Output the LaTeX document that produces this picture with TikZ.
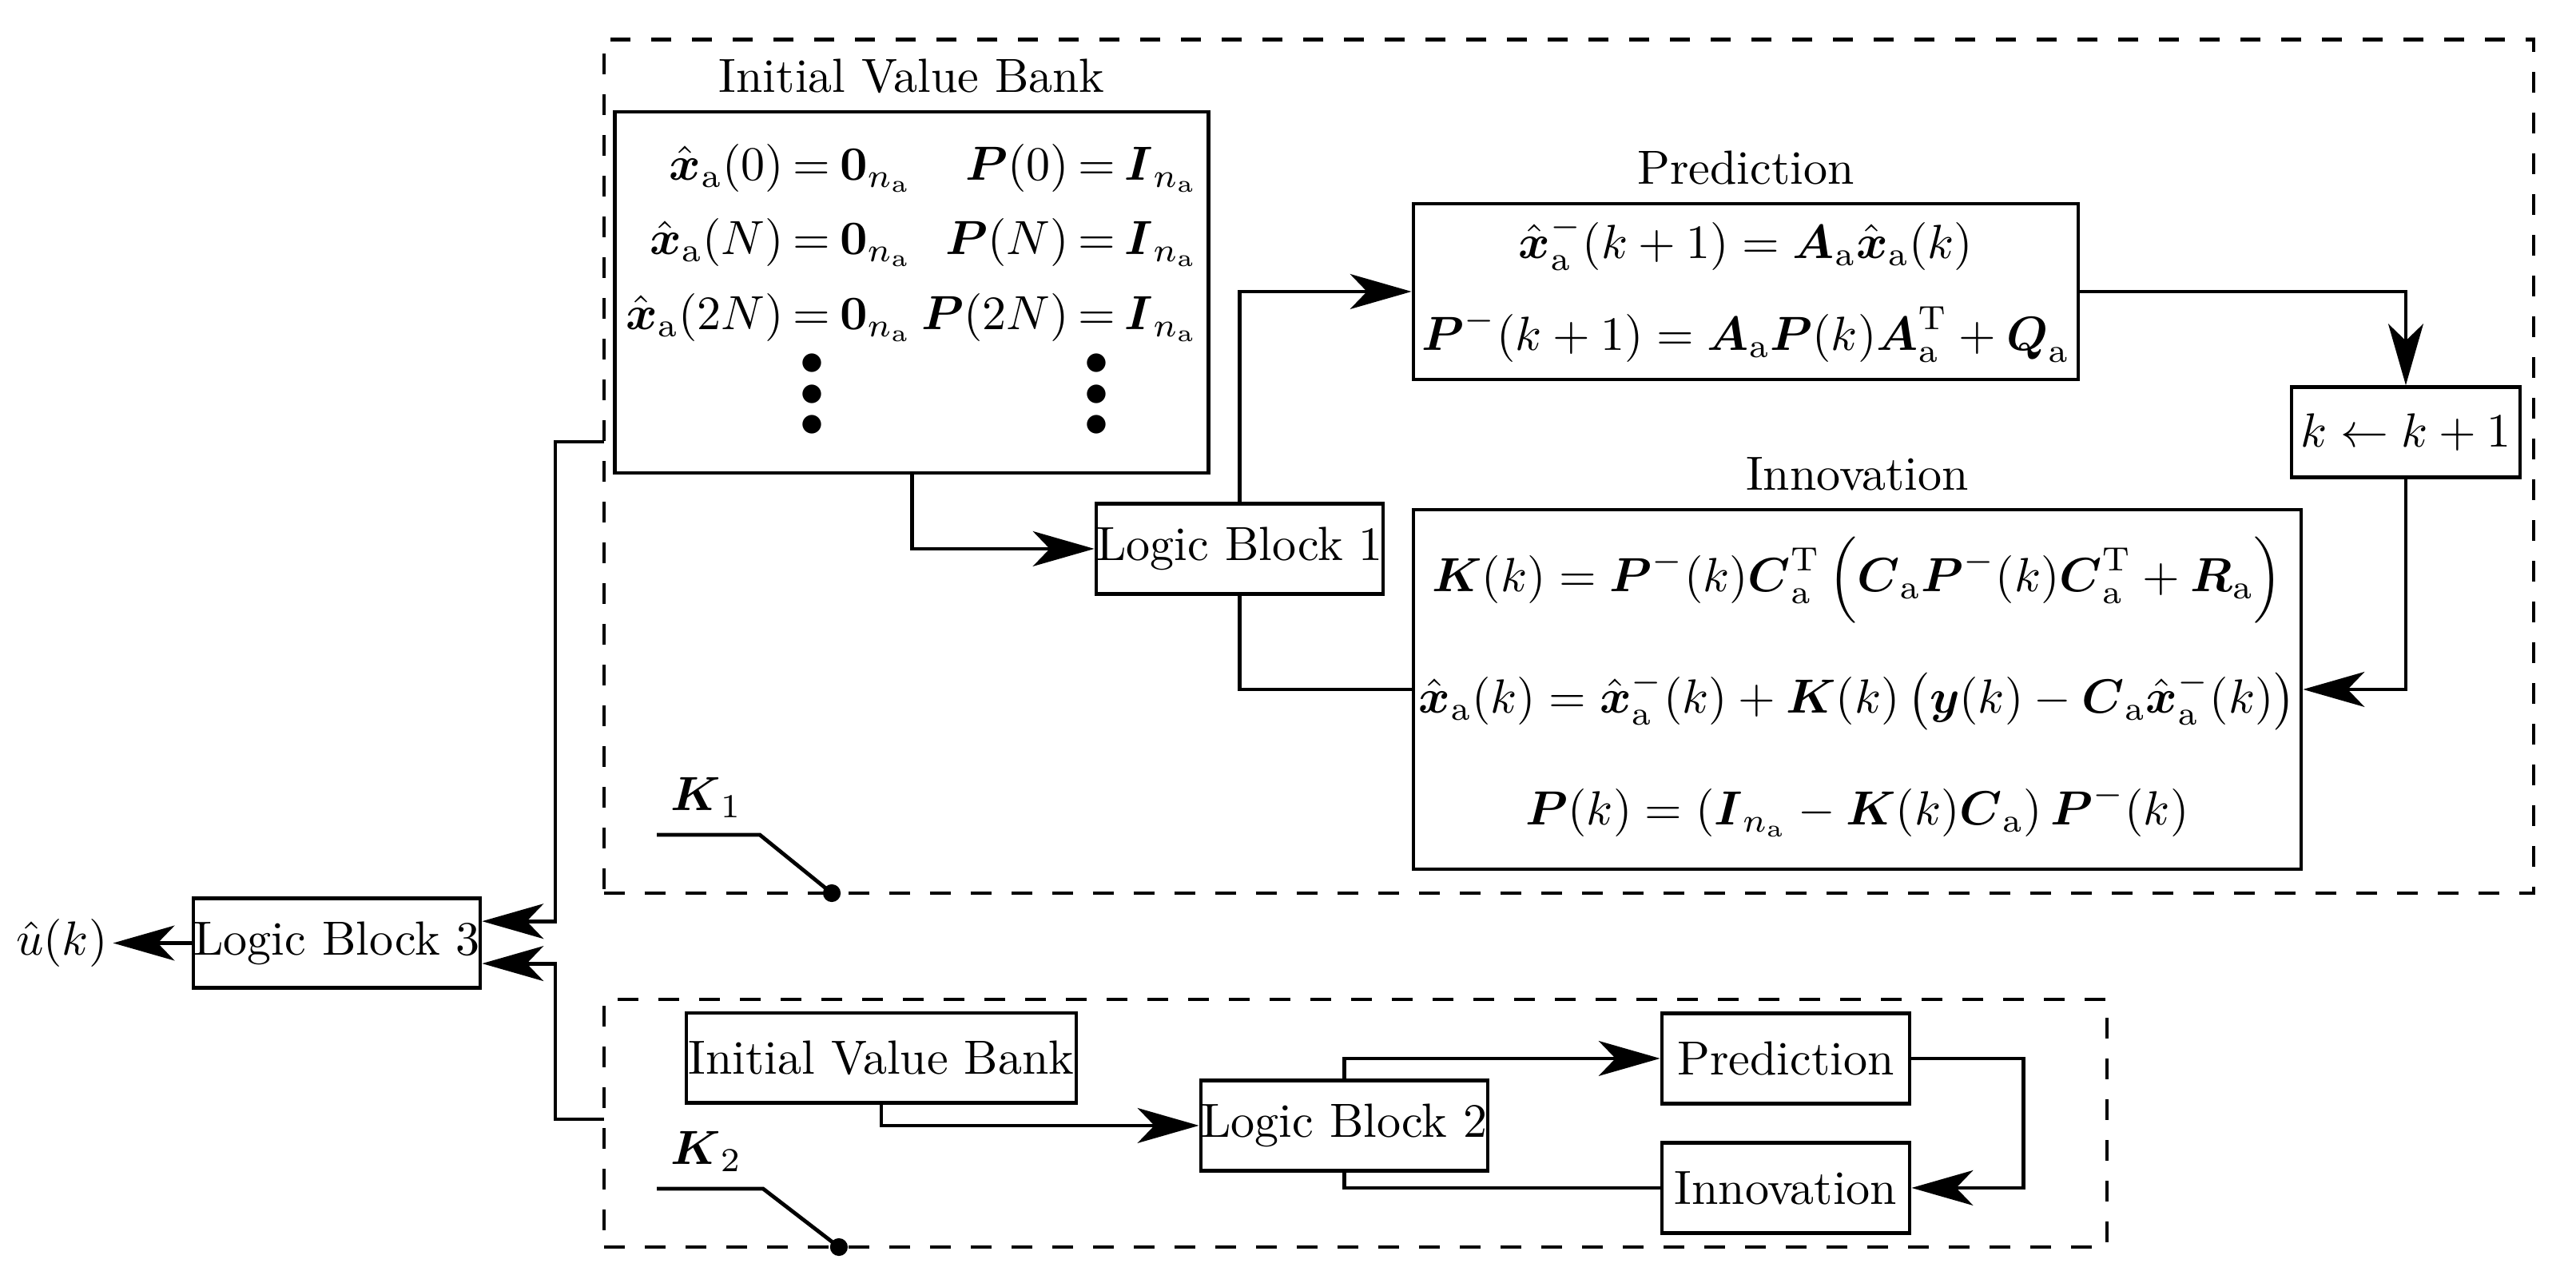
\documentclass[tikz,border=0pt]{standalone}
\usepackage{amsmath}
\usetikzlibrary{arrows.meta,positioning}

\newcommand{\xa}{\hat{\boldsymbol{x}}_{\mathrm{a}}}
\newcommand{\na}{{n_{\mathrm{a}}}}
\newcommand{\bigvdots}{\vcenter{\baselineskip=6.4pt\lineskiplimit=-10pt\hbox{$\bullet$}\hbox{$\bullet$}\hbox{$\bullet$}}}

\tikzset{
  block/.style={draw, thick, inner xsep=0pt, inner ysep=0pt, minimum height=0.66cm},
  kframe/.style={draw, thick, dash pattern=on 4.3pt off 4.2pt, inner sep=0pt},
  wire/.style={thick},
  arr/.style={thick, -{Stealth[length=12.8pt,width=7.3pt,inset=3.5pt]}},
}

\begin{document}
\begin{tikzpicture}
  \useasboundingbox (0,0) rectangle (18.885,9.343);

  % the two filter frames
  \node[kframe, minimum width=14.146cm, minimum height=6.259cm] (kf1) at (11.501,5.924) {};
  \node[kframe, minimum width=11.018cm, minimum height=1.816cm] (kf2) at (9.937,1.107) {};
  \coordinate (fb1) at (4.428,6.104);
  \coordinate (fb2) at (4.428,1.136);

  % first filter
  \node[block, minimum width=4.352cm, minimum height=2.648cm, label=above:Initial Value Bank] (ivb) at (6.685,7.199)
  {$\thickmuskip=3.5mu\renewcommand{\arraystretch}{1.3}\begin{array}{@{}r@{}c@{}l@{\hspace{2pt}}r@{}c@{}l@{}}
      \xa(0) & {}={} & \boldsymbol{0}_{\na} & \boldsymbol{P}(0) & {}={} & \boldsymbol{I}_{\na} \\
      \xa(N) & {}={} & \boldsymbol{0}_{\na} & \boldsymbol{P}(N) & {}={} & \boldsymbol{I}_{\na} \\
      \xa(2N) & {}={} & \boldsymbol{0}_{\na} & \boldsymbol{P}(2N) & {}={} & \boldsymbol{I}_{\na} \\[0.4pt]
      & \bigvdots\rule[-10.4pt]{0pt}{0pt} & & & \bigvdots &
    \end{array}$};
  \node[block, minimum width=4.874cm, minimum height=1.289cm, label=above:Prediction] (pred) at (12.799,7.205)
  {$\begin{gathered}
      \xa^{-}(k+1) = \boldsymbol{A}_{\mathrm{a}}\xa(k) \\[2.5pt]
      \boldsymbol{P}^{-}(k+1) = \boldsymbol{A}_{\mathrm{a}}\boldsymbol{P}(k)\boldsymbol{A}_{\mathrm{a}}^{\mathrm{T}} + \boldsymbol{Q}_{\mathrm{a}}
    \end{gathered}$};
  \node[block, minimum width=1.675cm] (kinc) at (17.637,6.174) {$k \leftarrow k+1$};
  \node[block, minimum width=2.103cm] (lb1) at (9.088,5.319) {Logic Block 1};
  \node[block, minimum width=6.508cm, minimum height=2.636cm, label=above:Innovation] (innov) at (13.616,4.288)
  {$\begin{gathered}
      \boldsymbol{K}(k) = \boldsymbol{P}^{-}(k)\boldsymbol{C}_{\mathrm{a}}^{\mathrm{T}}\,\Big(\boldsymbol{C}_{\mathrm{a}}\boldsymbol{P}^{-}(k)\boldsymbol{C}_{\mathrm{a}}^{\mathrm{T}} + \boldsymbol{R}_{\mathrm{a}}\Big) \\[5.9pt]
      \xa(k) = \xa^{-}(k) + \boldsymbol{K}(k)\,\big(\boldsymbol{y}(k) - \boldsymbol{C}_{\mathrm{a}}\xa^{-}(k)\big) \\[7pt]
      \boldsymbol{P}(k) = (\boldsymbol{I}_{\na} - \boldsymbol{K}(k)\boldsymbol{C}_{\mathrm{a}})\,\boldsymbol{P}^{-}(k)
    \end{gathered}$};

  \node (k1lab) at (5.178,3.497) {$\boldsymbol{K}_1$};
  \coordinate (sw1a) at (4.815,3.222);
  \coordinate (sw1b) at (5.570,3.222);
  \coordinate (sw1c) at (6.098,2.794);

  % second filter
  \node[block, minimum width=2.858cm] (ivb2) at (6.461,1.585) {Initial Value Bank};
  \node[block, minimum width=2.103cm] (lb2) at (9.855,1.090) {Logic Block 2};
  \node[block, minimum width=1.816cm] (pred2) at (13.092,1.582) {Prediction};
  \node[block, minimum width=1.816cm] (innov2) at (13.092,0.633) {Innovation};

  \node (k2lab) at (5.178,0.902) {$\boldsymbol{K}_2$};
  \coordinate (sw2a) at (4.815,0.627);
  \coordinate (sw2b) at (5.594,0.627);
  \coordinate (sw2c) at (6.150,0.199);

  % output side
  \node[block, minimum width=2.103cm] (lb3) at (2.469,2.428) {Logic Block 3};
  \node[left=0.574cm of lb3, inner sep=1pt] (uhat) {$\hat{u}(k)$};

  % connectors
  \draw[arr] (ivb.south) |- (lb1.west);
  \draw[arr] (lb1.north) |- (pred.west);
  \draw[arr] (pred.east) -| (kinc.north);
  \draw[arr] (kinc.south) |- (innov.east);
  \draw[wire] (lb1.south) |- (innov.west);

  \draw[arr] (ivb2.south) |- (lb2.west);
  \draw[arr] (lb2.north) |- (pred2.west);
  \draw[arr] (pred2.east) -- ++(0.82,0) |- (innov2.east);
  \draw[wire] (lb2.south) |- (innov2.west);

  \draw[arr] (fb1) -- ++(-0.357,0) |- ([yshift=0.16cm]lb3.east);
  \draw[arr] (fb2) -- ++(-0.357,0) |- ([yshift=-0.15cm]lb3.east);
  \draw[arr] (lb3.west) -- (uhat.east);

  % switches
  \draw[wire] (sw1a) -- (sw1b) -- (sw1c);
  \fill (sw1c) circle (0.065);
  \draw[wire] (sw2a) -- (sw2b) -- (sw2c);
  \fill (sw2c) circle (0.065);
\end{tikzpicture}
\end{document}
